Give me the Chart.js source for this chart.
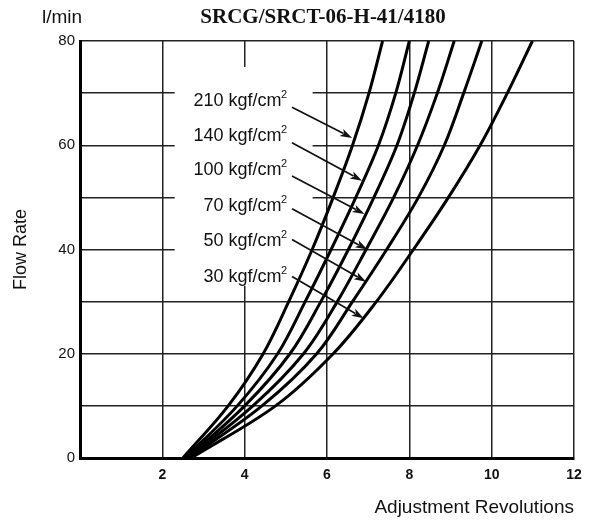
<!DOCTYPE html>
<html>
<head>
<meta charset="utf-8">
<script src="https://cdn.jsdelivr.net/npm/chart.js@4.4.1/dist/chart.umd.min.js"></script>
<style>
html, body { margin: 0; padding: 0; background: #fff; }
</style>
</head>
<body>
<canvas id="flowChart" width="595" height="522"></canvas>
<script>
// Données : tours de réglage pour chaque débit
const flowLevels = [0, 10, 20, 30, 40, 50, 60, 70, 80];
const rev210 = [2.50, 3.60, 4.45, 5.07, 5.64, 6.15, 6.62, 7.02, 7.35];
const rev140 = [2.55, 3.82, 4.80, 5.47, 6.10, 6.70, 7.25, 7.67, 8.00];
const rev100 = [2.60, 4.00, 5.10, 5.85, 6.52, 7.14, 7.70, 8.12, 8.47];
const rev70  = [2.62, 4.20, 5.43, 6.25, 6.95, 7.62, 8.20, 8.68, 9.09];
const rev50  = [2.65, 4.42, 5.75, 6.62, 7.45, 8.22, 8.85, 9.32, 9.76];
const rev30  = [2.70, 4.75, 6.15, 7.20, 8.10, 8.95, 9.72, 10.38, 10.99];

const pressures = ["210", "140", "100", "70", "50", "30"];
const seriesRevs = [rev210, rev140, rev100, rev70, rev50, rev30];

// Étiquettes et flèches (en unités du graphe)
const labelRightRev = 5.03;
const labelFlow = [68.5, 61.8, 55.2, 48.3, 41.6, 34.8];
const arrowFromRev = 5.15;
const arrowFromFlow = [67.3, 60.5, 54.1, 47.8, 41.9, 34.8];
const arrowToRev = [6.61, 6.85, 6.91, 6.98, 6.95, 6.89];
const arrowToFlow = [61.4, 53.2, 46.8, 40.0, 33.8, 26.8];

// Cache blanc derrière les étiquettes
const maskRev = [2.3, 5.65];
const maskFlow = [33, 75];

const datasets = seriesRevs.map((revs, i) => ({
    label: pressures[i] + " kgf/cm2",
    data: flowLevels.map((f, j) => ({ x: revs[j], y: f })),
    showLine: true,
    borderColor: "#000",
    borderWidth: 3,
    pointRadius: 0,
    tension: 0.35,
    fill: false
}));

// Fond blanc derrière les étiquettes (avant les courbes)
const maskPlugin = {
    id: "labelMask",
    beforeDatasetsDraw(chart) {
        const { ctx, scales: { x, y } } = chart;
        const x0 = x.getPixelForValue(maskRev[0]);
        const x1 = x.getPixelForValue(maskRev[1]);
        const y0 = y.getPixelForValue(maskFlow[1]);
        const y1 = y.getPixelForValue(maskFlow[0]);
        ctx.save();
        ctx.fillStyle = "#fff";
        ctx.fillRect(x0, y0, x1 - x0, y1 - y0);
        ctx.restore();
    }
};

// Étiquettes de pression avec flèches
const labelPlugin = {
    id: "pressureLabels",
    afterDatasetsDraw(chart) {
        const { ctx, scales: { x, y } } = chart;
        ctx.save();
        ctx.fillStyle = "#111";
        ctx.strokeStyle = "#111";
        const right = x.getPixelForValue(labelRightRev);
        pressures.forEach((p, i) => {
            const cy = y.getPixelForValue(labelFlow[i]);
            ctx.font = "11px 'Liberation Sans', Arial, sans-serif";
            const supW = ctx.measureText("2").width;
            ctx.textAlign = "left";
            ctx.textBaseline = "middle";
            ctx.fillText("2", right - supW, cy - 6);
            ctx.font = "18px 'Liberation Sans', Arial, sans-serif";
            ctx.textAlign = "right";
            ctx.fillText(p + " kgf/cm", right - supW + 0.5, cy);

            // flèche
            const ax = x.getPixelForValue(arrowFromRev);
            const ay = y.getPixelForValue(arrowFromFlow[i]);
            const bx = x.getPixelForValue(arrowToRev[i]);
            const by = y.getPixelForValue(arrowToFlow[i]);
            const ang = Math.atan2(by - ay, bx - ax);
            const headLen = 12, headW = 4;
            ctx.lineWidth = 1.7;
            ctx.beginPath();
            ctx.moveTo(ax, ay);
            ctx.lineTo(bx - Math.cos(ang) * headLen * 0.8, by - Math.sin(ang) * headLen * 0.8);
            ctx.stroke();
            ctx.beginPath();
            ctx.moveTo(bx, by);
            ctx.lineTo(bx - Math.cos(ang) * headLen - Math.sin(ang) * headW,
                       by - Math.sin(ang) * headLen + Math.cos(ang) * headW);
            ctx.lineTo(bx - Math.cos(ang) * headLen * 0.75, by - Math.sin(ang) * headLen * 0.75);
            ctx.lineTo(bx - Math.cos(ang) * headLen + Math.sin(ang) * headW,
                       by - Math.sin(ang) * headLen - Math.cos(ang) * headW);
            ctx.closePath();
            ctx.fill();
        });
        ctx.restore();
    }
};

// Titre et unité en haut
const headerPlugin = {
    id: "header",
    afterDraw(chart) {
        const ctx = chart.ctx;
        ctx.save();
        ctx.fillStyle = "#111";
        ctx.textBaseline = "middle";
        ctx.textAlign = "left";
        ctx.font = "19px 'Liberation Sans', Arial, sans-serif";
        ctx.fillText("l/min", 42, 18);
        ctx.textAlign = "center";
        ctx.font = "bold 21px 'Liberation Serif', 'Times New Roman', serif";
        ctx.fillText("SRCG/SRCT-06-H-41/4180", 323, 18);
        ctx.restore();
    }
};

const ctx = document.getElementById("flowChart").getContext("2d");
const chart = new Chart(ctx, {
    type: "scatter",
    data: { datasets: datasets },
    plugins: [maskPlugin, labelPlugin, headerPlugin],
    options: {
        responsive: false,
        animation: false,
        layout: { padding: { top: 41, right: 21, left: 0, bottom: 0 } },
        plugins: {
            legend: { display: false },
            tooltip: { enabled: false },
            title: { display: false }
        },
        scales: {
            x: {
                type: "linear",
                min: 0,
                max: 12,
                afterFit: (s) => { s.height = 64; },
                ticks: {
                    stepSize: 2,
                    padding: 9,
                    color: "#111",
                    font: { family: "'Liberation Sans', Arial, sans-serif", size: 14, weight: "bold" },
                    callback: (v) => (v === 0 ? "" : v)
                },
                grid: { color: "#222", lineWidth: 1.5, drawTicks: false },
                border: { display: true, color: "#000", width: 3 },
                title: {
                    display: true,
                    text: "Adjustment Revolutions",
                    align: "end",
                    color: "#111",
                    font: { family: "'Liberation Sans', Arial, sans-serif", size: 19 },
                    padding: { top: 0, bottom: 3 }
                }
            },
            y: {
                type: "linear",
                min: 0,
                max: 80,
                afterFit: (s) => { s.width = 80; },
                ticks: {
                    stepSize: 10,
                    padding: 5,
                    color: "#111",
                    font: { family: "'Liberation Sans', Arial, sans-serif", size: 15 },
                    callback: (v) => (v % 20 === 0 ? v : "")
                },
                grid: { color: "#222", lineWidth: 1.5, drawTicks: false },
                border: { display: true, color: "#000", width: 3 },
                title: {
                    display: true,
                    text: "Flow Rate",
                    color: "#111",
                    font: { family: "'Liberation Sans', Arial, sans-serif", size: 18 },
                    padding: { top: 10, bottom: 0 }
                }
            }
        }
    }
});
</script>
</body>
</html>
